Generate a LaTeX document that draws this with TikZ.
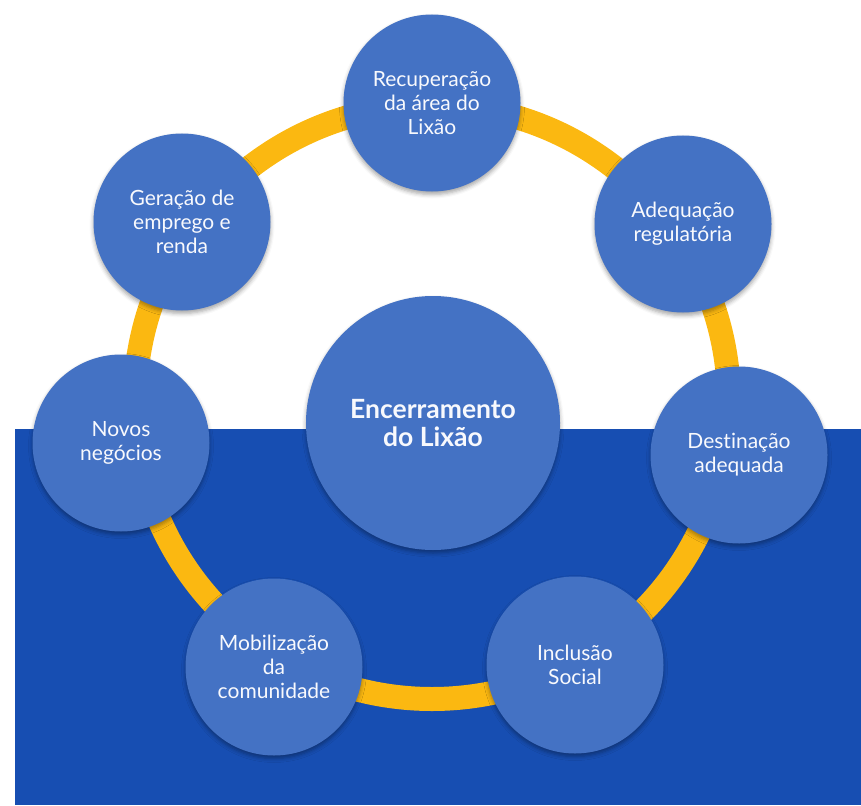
\documentclass[tikz,border=0pt]{standalone}
\usepackage{fontspec}
\setmainfont{Lato}[Ligatures=NoCommon]
\usetikzlibrary{shadows.blur}
\definecolor{bgblue}{HTML}{174EB2}
\definecolor{nodeblue}{HTML}{4472C4}
\definecolor{ringyellow}{HTML}{FBB811}

\begin{document}
\begin{tikzpicture}[x=1pt,y=-1pt,
                topic/.style={
                  circle, fill=nodeblue, minimum size=177pt, inner sep=0pt,
                  text=white!96!nodeblue, align=center,
                  font=\fontsize{21}{24}\selectfont,
                  blur shadow={shadow xshift=0pt, shadow yshift=-3pt,
                    shadow opacity=35, shadow blur radius=4pt}
                },
                core/.style={topic, minimum size=254pt,
                  font=\bfseries\fontsize{26.5}{28}\selectfont},
                ring/.style={draw=ringyellow, line width=24pt}
                ]
                \useasboundingbox (0,0) rectangle (861,805);
                % lower half of the background
                \fill [bgblue] (15,429) rectangle (861,805);

                \coordinate (c) at (432,402);
                \draw [ring] (c) circle (297);

                \node [core] (lixao) at (433,423) {Encerramento\\do Lixão};
                \node [topic] (recup) at (432,103) {Recuperação\\da área do\\Lixão};
                \node [topic] (adeq) at (683,224) {Adequação\\regulatória};
                \node [topic] (dest) at (739,455) {Destinação\\adequada};
                \node [topic] (incl) at (575,665) {Inclusão\\Social};
                \node [topic] (mob) at (274,667) {Mobilização\\da\\comunidade};
                \node [topic] (novos) at (121,443) {Novos\\negócios};
                \node [topic] (ger) at (182,222) {Geração de\\emprego e\\renda};
\end{tikzpicture}
\end{document}
